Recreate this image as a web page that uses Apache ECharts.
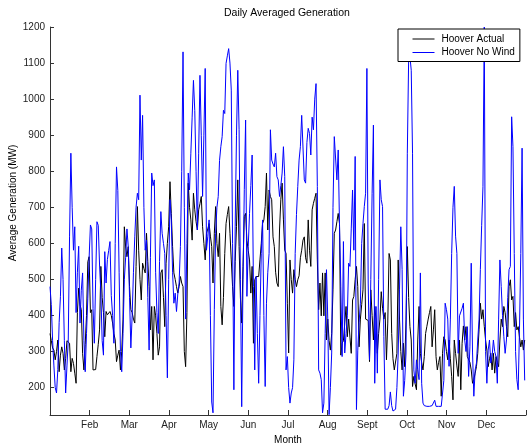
<!DOCTYPE html>
<html>
<head>
<meta charset="utf-8">
<title>Daily Averaged Generation</title>
<script src="https://cdn.jsdelivr.net/npm/echarts@6/dist/echarts.min.js"></script>
<style>
  html, body { margin: 0; padding: 0; background: #fff; }
  #graph_container { width: 527px; height: 447px; }
</style>
</head>
<body>
<div id="graph_container"></div>
<script>
// month tick labels (ticks at month boundaries, first and last left blank)
var monthLabels = ['', 'Feb', 'Mar', 'Apr', 'May', 'Jun', 'Jul', 'Aug', 'Sept', 'Oct', 'Nov', 'Dec', ''];
var yTicks = [200, 300, 400, 500, 600, 700, 800, 900, 1000, 1100, 1200];
var seriesNames = ['Hoover Actual', 'Hoover No Wind'];

// daily averaged generation (MW), day 0..364
var actualMW = [].concat(
    [350, 330, 310, 304, 277, 300, 332, 244, 290, 313,
     295, 249, 280, 330, 332, 323, 244, 281, 267, 240,
     212, 408, 476, 430, 416, 295, 249, 320, 400, 549,
     563, 408, 416, 249, 244, 250, 286, 320, 360, 536,
     450, 408, 341, 411, 402, 405, 411, 400, 379, 350,
     332, 272, 290, 304, 249, 300, 390, 646, 590, 563],
    [591, 480, 416, 408, 390, 379, 536, 702, 581, 500,
     443, 545, 530, 518, 628, 550, 480, 360, 425, 277,
     425, 399, 350, 290, 313, 518, 527, 450, 369, 545,
     600, 646, 771, 683, 591, 518, 500, 480, 462, 480,
     508, 490, 480, 300, 258, 408, 767, 700, 665, 609,
     739, 693, 660, 637, 693, 710, 730, 646, 600, 554,
     628, 640, 655, 620, 591],
    [490, 628, 702, 600, 563, 628, 425, 374, 450, 572,
     655, 680, 702, 628, 554, 480, 425, 550, 646, 776,
     591, 450, 379, 536, 674, 683, 609, 580, 554, 462,
     536, 323, 499, 508, 505, 508, 554, 600, 655, 665,
     702, 795, 637, 748, 730, 721, 618, 591, 520, 490,
     480, 637, 721, 767, 665, 581, 572, 434, 296, 554,
     500, 462, 527, 500, 480, 499, 510],
    [560, 581, 609, 618, 560, 545, 665, 581, 536, 693,
     711, 725, 739, 554, 416, 490, 399, 518, 399, 518,
     332, 390, 330, 304, 350, 471, 628, 637, 660, 683,
     655, 290, 323, 330, 332, 425, 341, 390, 340, 295,
     443, 453, 500, 536, 480, 313, 390, 430, 471, 655,
     390, 388, 386, 272, 471, 400, 332, 425, 390, 295,
     350, 390, 466, 420, 390],
    [408, 277, 379, 572, 554, 350, 280, 249, 249, 295,
     554, 390, 300, 249, 323, 258, 390, 591, 450, 369,
     332, 203, 231, 210, 194, 332, 425, 295, 270, 249,
     286, 350, 370, 390, 408, 425, 313, 360, 416, 286,
     249, 270, 286, 176, 295, 341, 332, 300, 277, 332,
     280, 231, 166, 332, 295, 260, 231, 332, 194, 323,
     371, 332],
    [369, 286, 286, 270, 249, 212, 222, 240, 258, 295,
     360, 434, 390, 416, 370, 332, 304, 258, 280, 295,
     249, 295, 240, 286, 270, 258, 332, 390, 369, 425,
     408, 370, 341, 480, 499, 443, 453, 369, 408, 360,
     369, 340, 313, 332, 304, 332]
);

var noWindMW = [].concat(
    [480, 430, 330, 260, 200, 185, 250, 380, 452, 587,
     500, 330, 185, 260, 332, 620, 850, 700, 581, 646,
     408, 520, 592, 379, 470, 518, 330, 244, 350, 448,
     560, 651, 640, 420, 323, 500, 660, 650, 540, 462,
     330, 290, 577, 490, 555, 580, 605, 455, 400, 323,
     600, 812, 747, 520, 300, 244, 350, 499, 560, 640],
    [591, 450, 310, 400, 520, 618, 700, 739, 721, 1011,
     831, 955, 700, 581, 609, 450, 304, 560, 795, 760,
     776, 520, 408, 350, 550, 688, 628, 600, 572, 400,
     227, 500, 721, 665, 520, 434, 462, 411, 460, 490,
     591, 800, 1131, 700, 390, 600, 795, 748, 850, 950,
     1052, 969, 800, 637, 850, 1066, 900, 730, 900, 1085,
     581, 620, 665, 400, 160],
    [130, 416, 628, 700, 730, 830, 868, 896, 969, 960,
     1099, 1120, 1140, 1100, 1025, 600, 194, 646, 900, 1080,
     915, 500, 147, 499, 750, 942, 453, 591, 683, 760,
     845, 480, 249, 508, 350, 212, 400, 572, 665, 400,
     203, 434, 520, 572, 915, 831, 820, 812, 850, 785,
     776, 730, 760, 795, 868, 785, 249, 286, 200, 157,
     185, 200, 277, 572, 680, 758, 831],
    [868, 955, 950, 776, 767, 880, 919, 905, 845, 950,
     915, 1000, 1043, 758, 249, 240, 222, 130, 157, 350,
     527, 390, 125, 200, 296, 700, 896, 900, 776, 859,
     650, 480, 286, 605, 296, 350, 399, 545, 536, 640,
     748, 581, 841, 139, 304, 380, 434, 600, 655, 702,
     739, 1085, 490, 277, 500, 739, 928, 212, 425, 240,
     500, 776, 721, 702, 341],
    [140, 135, 140, 150, 188, 150, 135, 135, 140, 200,
     296, 471, 646, 527, 176, 220, 296, 850, 1109, 1118,
     1080, 850, 249, 212, 277, 250, 222, 518, 212, 157,
     150, 148, 148, 150, 148, 148, 150, 148, 165, 148,
     150, 148],
    [150, 148, 150, 220, 434, 416, 390, 259, 390, 572,
     700, 758, 620, 572, 295, 399, 399, 420, 434, 332,
     300, 369, 231, 313, 545, 296, 176, 249, 268, 332,
     390, 527, 650, 757, 1200, 300, 212, 304, 332, 268,
     286, 332, 300, 286, 212, 390, 554, 480, 400, 341,
     295, 332, 450, 527, 536, 951, 868, 572, 300, 222,
     194, 360, 572, 864, 390, 220]
);

function to_points(values) {
    // day index -> month units so the axis can run 0..12 with interval 1
    return values.map(function (v, i) { return [i * 12 / 365, v]; });
}

function render_graph() {
    var dom = document.getElementById('graph_container');
    var myChart = echarts.init(dom, null, { renderer: 'canvas' });
    var font = "'Liberation Sans', Arial, Helvetica, sans-serif";
    var option = {
        animation: false,
        textStyle: { fontFamily: font },
        title: {
            text: 'Daily Averaged Generation',
            left: 224,
            top: 8,
            padding: 0,
            textStyle: { fontSize: 10.5, fontWeight: 'normal', color: '#000', fontFamily: font }
        },
        // y label sits a bit above the axis middle in the original
        graphic: [{
            type: 'text',
            x: 13,
            y: 203,
            rotation: Math.PI / 2,
            style: {
                text: 'Average Generation (MW)',
                fontSize: 10,
                fontFamily: font,
                fill: '#000',
                align: 'center',
                verticalAlign: 'middle'
            }
        }],
        legend: {
            orient: 'vertical',
            left: 398,
            top: 29,
            padding: [4, 5, 3, 14],
            backgroundColor: '#fff',
            borderColor: '#000',
            borderWidth: 1,
            borderRadius: 0,
            itemWidth: 22,
            itemHeight: 12,
            itemGap: 1.5,
            itemStyle: { opacity: 0 },
            lineStyle: { width: 1 },
            textStyle: { fontSize: 10, color: '#000', lineHeight: 12, padding: [0, 0, 0, 2], fontFamily: font },
            data: seriesNames
        },
        grid: { left: 50, right: 1, top: 27, bottom: 32, containLabel: false, outerBoundsMode: 'none' },
        xAxis: {
            type: 'value',
            min: 0,
            max: 12,
            interval: 1,
            name: 'Month',
            nameLocation: 'middle',
            nameGap: 20,
            nameTextStyle: { fontSize: 10, color: '#000', fontFamily: font },
            axisLine: { lineStyle: { color: '#333', width: 1 } },
            axisTick: { inside: true, length: 5, lineStyle: { color: '#333' } },
            axisLabel: {
                margin: 5,
                fontSize: 10,
                color: '#222',
                formatter: function (v) { return monthLabels[Math.round(v)] || ''; }
            },
            splitLine: { show: false }
        },
        yAxis: {
            type: 'value',
            min: 124,
            max: 1200,
            axisLine: { show: true, lineStyle: { color: '#333', width: 1 } },
            axisTick: { show: true, inside: true, length: 4, customValues: yTicks, lineStyle: { color: '#333' } },
            axisLabel: {
                margin: 5,
                fontSize: 10,
                color: '#222',
                customValues: yTicks,
                formatter: function (v) { return String(v); }
            },
            splitLine: { show: false }
        },
        series: [
            {
                name: seriesNames[0],
                type: 'line',
                symbol: 'none',
                data: to_points(actualMW),
                lineStyle: { color: '#000', width: 1 },
                itemStyle: { color: '#000' }
            },
            {
                name: seriesNames[1],
                type: 'line',
                symbol: 'none',
                data: to_points(noWindMW),
                lineStyle: { color: '#0000ff', width: 1 },
                itemStyle: { color: '#0000ff' }
            }
        ]
    };
    myChart.setOption(option, true);
}

render_graph();
</script>
</body>
</html>
